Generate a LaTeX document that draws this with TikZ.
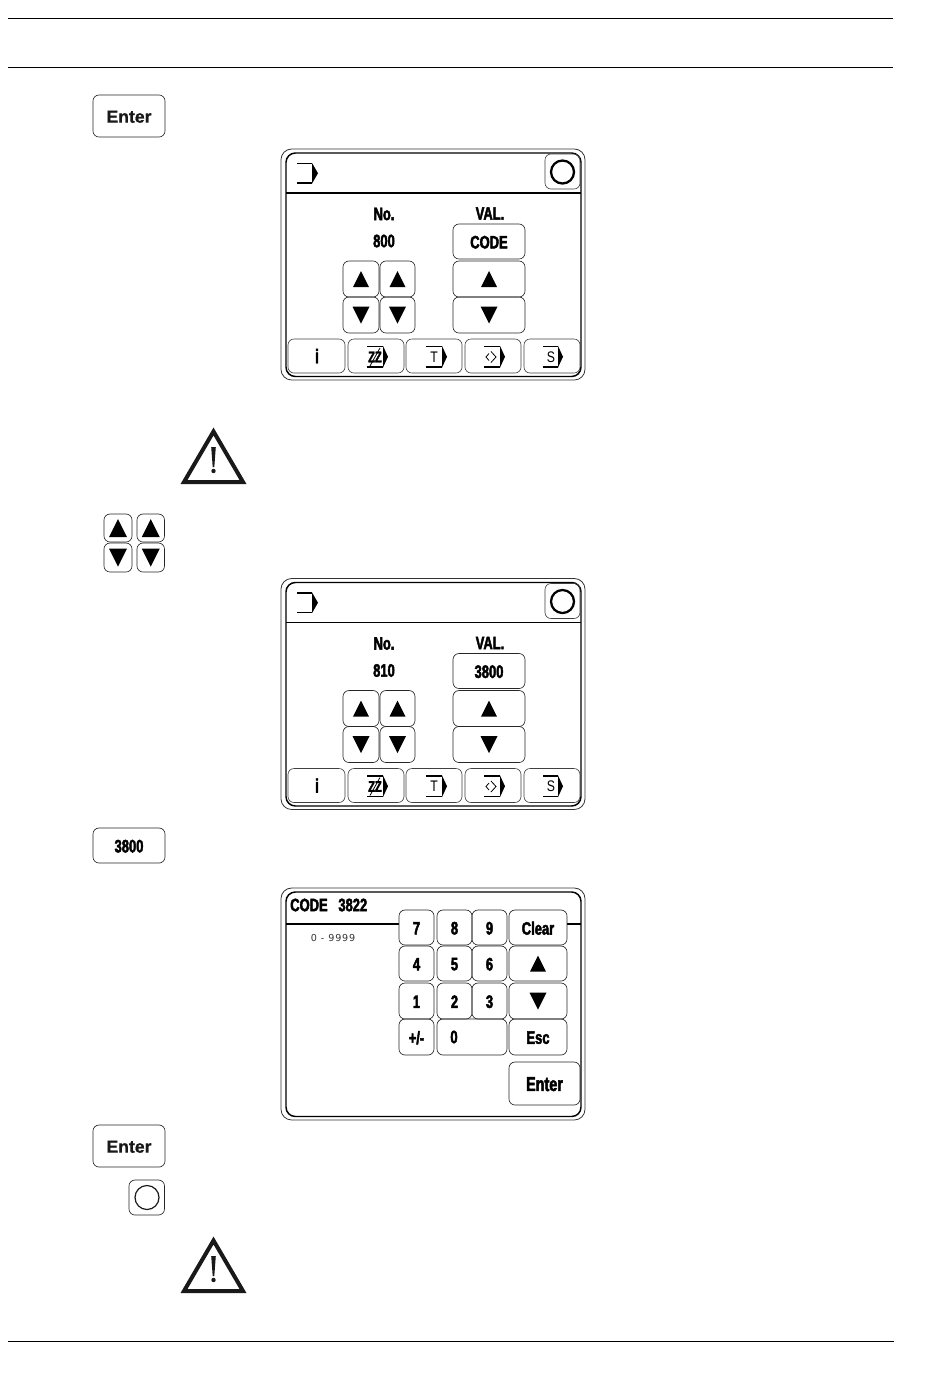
\documentclass[tikz,border=0pt]{standalone}
\usepackage{fontspec}
\usetikzlibrary{calc}
\setmainfont{Liberation Sans}
\newfontfamily\lcdfont[FakeStretch=0.72,FakeBold=2.4]{Liberation Sans Bold}
\newfontfamily\thinfont[FakeStretch=0.8]{Liberation Sans}
\newfontfamily\smallfont[LetterSpace=8]{DejaVu Sans}
\newfontfamily\keyfont[FakeBold=0.6]{Liberation Sans Bold}
\newcommand{\lcdsize}{\lcdfont\fontsize{13.5}{15}\selectfont}
\newcommand{\lcdbig}{\lcdfont\fontsize{15}{17}\selectfont}
\tikzset{
  x=0.75pt,y=-0.75pt,
  rule/.style={line width=0.6pt,draw=black},
  keyline/.style={line width=0.5pt,draw=black!85,rounded corners=4.5pt},
  softkey/.style={line width=0.45pt,draw=black!75,rounded corners=4.5pt},
  panelouter/.style={line width=0.6pt,draw=black!80,rounded corners=8pt},
  panelinner/.style={line width=1.1pt,draw=black,rounded corners=7pt},
  headline/.style={line width=1.1pt,draw=black},
  lcd/.style={inner sep=0pt,font=\lcdsize,text=black},
  lcdlarge/.style={inner sep=0pt,font=\lcdbig,text=black},
  plain/.style={inner sep=0pt,font={\keyfont\fontsize{13.2}{15}\selectfont},text=black!90},
  iconline/.style={line width=1.1pt,draw=black},
  warn/.style={line width=3pt,draw=black!90,line join=miter}
}
% name x1 y1 x2 y2 text
\newcommand{\kbtn}[7][lcd]{\draw[keyline] (#3,#4) rectangle (#5,#6);
  \node[#1] (#2) at ($(#3,#4)!.5!(#5,#6)+(0,0.7)$) {#7};}
\newcommand{\upkey}[6]{\draw[keyline] (#2,#3) rectangle (#4,#5);
  \coordinate (#1) at ($(#2,#3)!.5!(#4,#5)$);
  \fill ($(#1)+(-#6,#6)$) -- ($(#1)+(#6,#6)$) -- ($(#1)+(0,-#6)$) -- cycle;}
\newcommand{\downkey}[6]{\draw[keyline] (#2,#3) rectangle (#4,#5);
  \coordinate (#1) at ($(#2,#3)!.5!(#4,#5)$);
  \fill ($(#1)+(-#6,-#6)$) -- ($(#1)+(#6,-#6)$) -- ($(#1)+(0,#6)$) -- cycle;}
\newcommand{\bracket}[5]{\draw[iconline] (#1,#2) -- (#3,#2);
  \draw[iconline] (#1,#4) -- (#3,#4);
  \fill (#3,#2-0.6) -- (#5,#2/2+#4/2) -- (#3,#4+0.6) -- cycle;}
\newcommand{\warning}[2]{%
  \draw[warn] (#1,#2+6.5) -- (#1+29.5,#2+57) -- (#1-29.5,#2+57) -- cycle;
  \fill[black!90] (#1-2.3,#2+22) -- (#1+2.3,#2+22) -- (#1+0.8,#2+42) -- (#1-0.8,#2+42) -- cycle;
  \fill[black!90] (#1,#2+46) circle (2.2);}
\newcommand{\panelframe}[2]{%
  \draw[panelouter] (281,#1) rectangle (585,#2);
  \draw[panelinner] (286,#1+4) rectangle (581,#2-3.5);}
\newcommand{\setpanel}[2]{%
  \panelframe{149}{380}
  \draw[headline] (286,193) -- (581,193);
  \bracket{297}{163.5}{312}{183}{318}
  \draw[softkey] (545,154) rectangle (580,189);
  \draw[line width=1.7pt] (562.5,172) circle (11.5);
  \node[lcd] (no) at (384,214) {No.};
  \node[lcd] (val) at (490,213.5) {VAL.};
  \node[lcd] (num) at (384,241) {#1};
  \kbtn{value}{453}{224}{525}{259}{#2}
  \upkey{u1}{343}{261}{379}{297}{8}
  \upkey{u2}{380}{261}{415}{297}{8}
  \downkey{d1}{343}{297}{379}{333}{8.5}
  \downkey{d2}{380}{297}{415}{333}{8.5}
  \upkey{u3}{453}{261}{525}{297}{8}
  \downkey{d3}{453}{297}{525}{333}{8.5}
  \draw[softkey] (288,339) rectangle (345,373);
  \draw[softkey] (348,339) rectangle (404,373);
  \draw[softkey] (406,339) rectangle (462,373);
  \draw[softkey] (465,339) rectangle (521,373);
  \draw[softkey] (524,339) rectangle (580,373);
  \node[lcdlarge] (info) at (317,356) {i};
  \bracket{367}{346.5}{383}{367}{388}
  \node[inner sep=0pt,font=\lcdfont\fontsize{11.5}{12}\selectfont] (zz) at (375,357) {ZZ};
  \draw[line width=0.6pt] (370,366) -- (380,348);
  \bracket{426}{346.5}{442}{367}{447}
  \node[inner sep=0pt,font=\thinfont\fontsize{11.5}{12}\selectfont] (tt) at (434,357) {T};
  \bracket{484}{346.5}{500}{367}{505}
  \draw[line width=0.6pt] (491,351.5) -- (496,357) -- (491,362.5);
  \draw[line width=0.6pt] (489,353.5) -- (486,357) -- (489,360.5);
  \bracket{543}{346.5}{558}{367}{563}
  \node[inner sep=0pt,font=\thinfont\fontsize{11.5}{12}\selectfont] (ss) at (551,357) {S};
}
\begin{document}
\begin{tikzpicture}
\useasboundingbox[fill=white] (0,0) rectangle (950,1379);
% rules
\coordinate (r1a) at (8,18); \coordinate (r1b) at (893,18);
\coordinate (r2a) at (8,67.7); \coordinate (r2b) at (893,67.7);
\coordinate (r3a) at (8,1341.7); \coordinate (r3b) at (894,1341.7);
\draw[rule] (r1a) -- (r1b);
\draw[rule] (r2a) -- (r2b);
\draw[rule] (r3a) -- (r3b);
% side keys
\kbtn[plain]{enterA}{93}{95}{165}{137}{Enter}
\warning{213.5}{425}
\upkey{su1}{104}{514}{132}{542}{9}
\upkey{su2}{137}{514}{164.5}{542}{9}
\downkey{sd1}{104}{543}{132}{572}{9}
\downkey{sd2}{137}{543}{164.5}{572}{9}
\kbtn{codekey}{93}{828}{165}{863}{3800}
\kbtn[plain]{enterB}{93}{1125}{165}{1167}{Enter}
\draw[keyline] (129,1180) rectangle (164.5,1215);
\draw[line width=0.9pt,draw=black!90] (147,1197.5) circle (12);
\warning{213.5}{1234}
% panels 1, 2
\begin{scope}[name prefix=a-]
\setpanel{800}{CODE}
\end{scope}
\begin{scope}[name prefix=b-,shift={(0,429.5)}]
\setpanel{810}{3800}
\end{scope}
% keypad panel
\panelframe{888}{1120}
\draw[line width=0.8pt] (286,924) -- (399,924);
\draw[line width=0.8pt] (567,924) -- (581,924);
\node[lcd,anchor=west] (title) at (290,905) {CODE\hspace{8pt}3822};
\node[inner sep=0pt,font=\smallfont\fontsize{7.2}{8}\selectfont,text=black!80] (range) at (333,937.5) {0\hspace{3pt}-\hspace{3pt}9999};
\kbtn{k7}{399}{910}{434}{945}{7}
\kbtn{k8}{437}{910}{472}{945}{8}
\kbtn{k9}{472}{910}{507}{945}{9}
\kbtn{kc}{509}{910}{567}{945}{Clear}
\kbtn{k4}{399}{946}{434}{981}{4}
\kbtn{k5}{437}{946}{472}{981}{5}
\kbtn{k6}{472}{946}{507}{981}{6}
\upkey{ku}{509}{946}{567}{981}{8}
\kbtn{k1}{399}{983}{434}{1019}{1}
\kbtn{k2}{437}{983}{472}{1019}{2}
\kbtn{k3}{472}{983}{507}{1019}{3}
\downkey{kd}{509}{983}{567}{1019}{8.5}
\kbtn{kpm}{399}{1019}{434}{1055}{+/-}
\draw[keyline] (437,1019) rectangle (507,1055);
\node[lcd] (k0) at (454,1037) {0};
\kbtn{kesc}{509}{1019}{567}{1055}{Esc}
\kbtn[lcdlarge]{kent}{509}{1062}{580}{1105}{Enter}
\end{tikzpicture}
\end{document}
